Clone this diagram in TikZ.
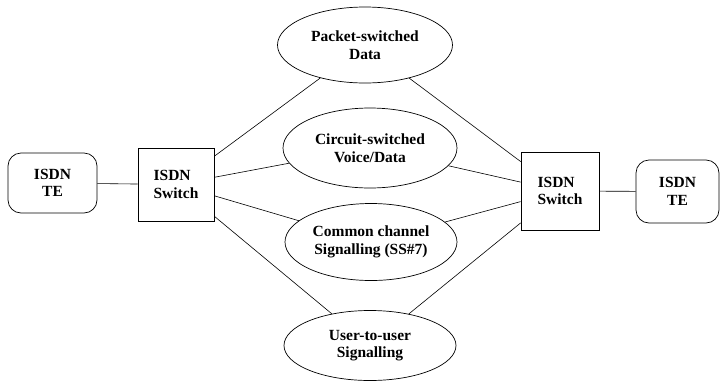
\documentclass[tikz,border=0pt]{standalone}
\usepackage{fontspec}
\setmainfont{Liberation Serif}
\usetikzlibrary{shapes.geometric}
\begin{document}
\begin{tikzpicture}[x=1pt,y=-1pt,
  every node/.style={font=\fontsize{15.5}{17.5}\selectfont\bfseries, inner sep=0pt},
  te/.style={draw, rounded corners=13pt, align=center, line width=0.7pt},
  sw/.style={draw, align=left, minimum width=76pt, minimum height=73pt, line width=0.7pt},
  ell/.style={draw, ellipse, align=center, line width=0.7pt},
  conn/.style={line width=0.6pt}]
\useasboundingbox (0,0) rectangle (721,381);
\node[te, minimum width=89pt, minimum height=60pt] (lte) at (52.5,183) {ISDN\\TE};
\node[sw] (lsw) at (176,184.5) {ISDN\\Switch};
\node[sw, minimum width=78pt, minimum height=78pt] (rsw) at (560,191) {ISDN\\Switch};
\node[te, minimum width=83pt, minimum height=63pt] (rte) at (677.5,191.5) {ISDN\\TE};
\node[ell, minimum width=175pt, minimum height=76pt] (e1) at (365,45) {Packet-switched\\Data};
\node[ell, minimum width=174pt, minimum height=80pt] (e2) at (370,148) {Circuit-switched\\Voice/Data};
\node[ell, minimum width=172pt, minimum height=77pt] (e3) at (371,242) {Common channel\\Signalling (SS\#7)};
\node[ell, minimum width=172pt, minimum height=70pt] (e4) at (370,345.5) {User-to-user\\Signalling};
\draw[conn] (lte) -- (lsw);
\draw[conn] (rsw) -- (rte);
\foreach \e in {e1,e2,e3,e4} {
  \draw[conn] (lsw) -- (\e);
  \draw[conn] (\e) -- (rsw);
}
\end{tikzpicture}
\end{document}
